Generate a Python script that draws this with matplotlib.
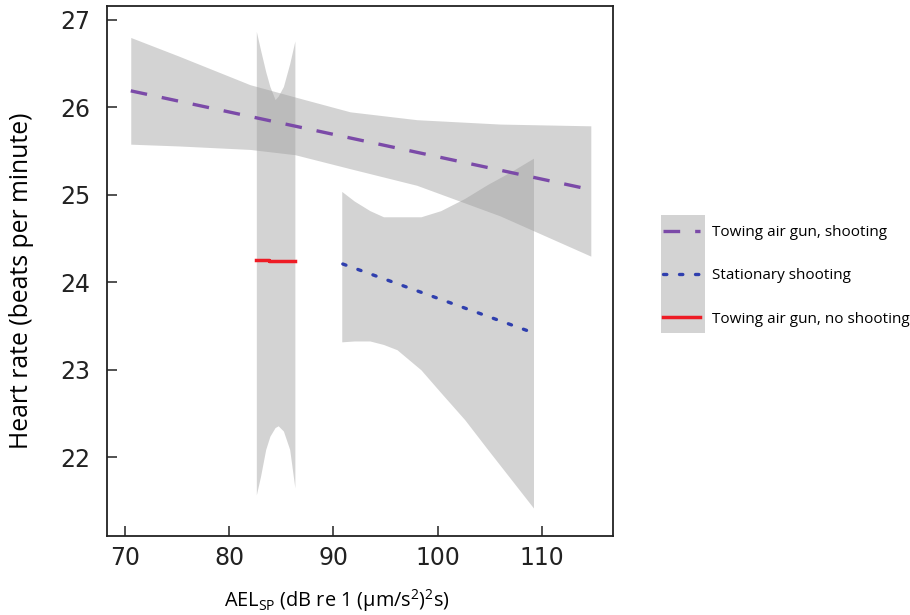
import matplotlib
matplotlib.use("Agg")
import matplotlib.pyplot as plt
from matplotlib.patches import Rectangle

plt.rcParams['font.family'] = ['Open Sans', 'DejaVu Sans']
plt.rcParams['mathtext.fontset'] = 'custom'
plt.rcParams['mathtext.rm'] = 'Open Sans'
plt.rcParams['mathtext.default'] = 'regular'

# towing air gun, shooting
tow_x = [70.55, 114.7]
tow_y = [26.19, 25.06]
tow_band_x = [70.55, 75.1, 82.0, 86.3, 91.6, 98.0, 106.0, 114.7]
tow_upper = [26.80, 26.59, 26.26, 26.12, 25.95, 25.86, 25.81, 25.79]
tow_lower = [25.58, 25.56, 25.52, 25.46, 25.30, 25.11, 24.76, 24.30]

# stationary shooting
stat_x = [90.9, 108.8]
stat_y = [24.21, 23.44]
stat_band_x = [90.8, 92.0, 93.5, 94.8, 96.1, 98.4, 100.3, 102.6, 104.8, 107.1, 109.2]
stat_upper = [25.04, 24.93, 24.82, 24.75, 24.75, 24.75, 24.82, 24.96, 25.12, 25.27, 25.42]
stat_lower = [23.32, 23.33, 23.33, 23.29, 23.23, 23.00, 22.74, 22.43, 22.09, 21.74, 21.42]

# towing air gun, no shooting
nos_x = [82.6, 83.8, 86.3]
nos_y = [24.26, 24.24, 24.24]
nos_band_x = [82.6, 83.0, 83.5, 83.9, 84.4, 84.7, 85.2, 85.8, 86.3]
nos_upper = [26.87, 26.66, 26.41, 26.24, 26.09, 26.13, 26.24, 26.50, 26.76]
nos_lower = [21.57, 21.78, 22.09, 22.24, 22.34, 22.36, 22.30, 22.09, 21.65]

labels = ["Towing air gun, shooting", "Stationary shooting", "Towing air gun, no shooting"]
x_ticks = [70, 80, 90, 100, 110]
y_ticks = [22, 23, 24, 25, 26, 27]

fig = plt.figure(figsize=(9.1, 6.15), dpi=100)
ax = fig.add_axes([107 / 910, 79 / 615, 506 / 910, 530 / 615])

band_kw = dict(color="#9e9e9e", alpha=0.45, linewidth=0)
ax.fill_between(tow_band_x, tow_lower, tow_upper, **band_kw)
ax.fill_between(nos_band_x, nos_lower, nos_upper, **band_kw)
ax.fill_between(stat_band_x, stat_lower, stat_upper, **band_kw)

h1, = ax.plot(tow_x, tow_y, color="#7b4aa8", lw=2.4, dashes=(5, 4.5), label=labels[0])
h2, = ax.plot(stat_x, stat_y, color="#2f3fae", lw=2.4, dashes=(1, 3.8),
              dash_capstyle="round", label=labels[1])
h3, = ax.plot(nos_x, nos_y, color="#ee1c25", lw=2.5, drawstyle="steps-post", label=labels[2])

ax.set_xlim(68.27, 116.83)
ax.set_ylim(21.10, 27.16)
ax.set_xticks(x_ticks)
ax.set_yticks(y_ticks)
ax.tick_params(direction="in", length=7, width=1.1, colors="#222222",
               labelsize=17, labelfontfamily="DejaVu Sans")
ax.tick_params(axis="y", pad=12)
ax.tick_params(axis="x", pad=7)
for sp in ax.spines.values():
    sp.set_linewidth(1.3)
    sp.set_color("#222222")

ax.set_ylabel("Heart rate (beats per minute)", fontsize=17.8, va="center")
ax.yaxis.set_label_coords(-0.168, 0.481)
ax.set_xlabel(r"AEL$_{SP}$ (dB re 1 (μm/s$^2$)$^2$s)", fontsize=14.3, va="center")
ax.xaxis.set_label_coords(0.4545, -0.121)

fig.patches.append(Rectangle((661 / 910, 1 - 333 / 615), 44 / 910, 118 / 615,
                             transform=fig.transFigure, facecolor="#d3d3d3",
                             edgecolor="none", zorder=0))
fig.legend(handles=[h1, h2, h3], loc="upper left", bbox_to_anchor=(663 / 910, 1 - 225 / 615),
           frameon=False, fontsize=11, handlelength=2.4, handletextpad=0.8,
           labelspacing=1.85, borderpad=0, borderaxespad=0)

fig.savefig("out.png")
